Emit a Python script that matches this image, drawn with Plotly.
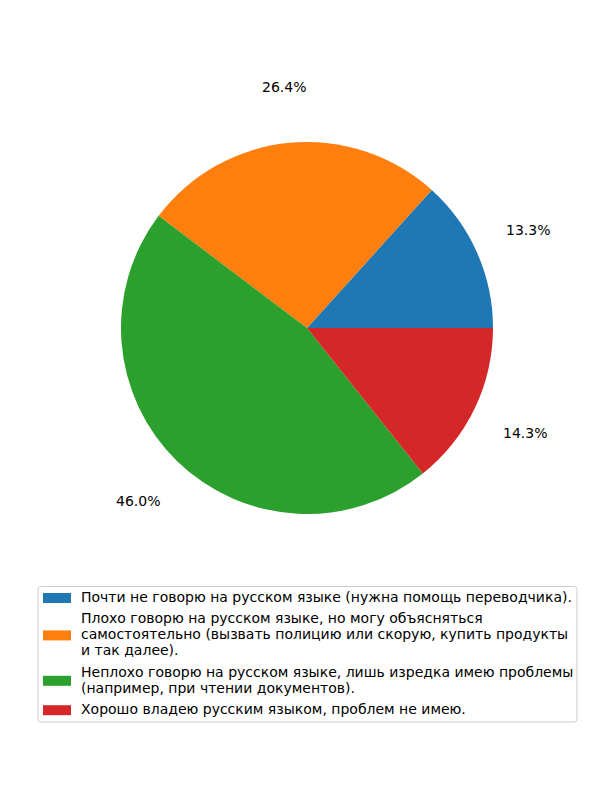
import numpy as np
import plotly.graph_objects as go

labels = [
    "Почти не говорю на русском языке (нужна помощь переводчика).",
    "Плохо говорю на русском языке, но могу объясняться\nсамостоятельно (вызвать полицию или скорую, купить продукты\nи так далее).",
    "Неплохо говорю на русском языке, лишь изредка имею проблемы\n(например, при чтении документов).",
    "Хорошо владею русским языком, проблем не имею.",
]
values = [13.3, 26.4, 46.0, 14.3]
colors = ["#1f77b4", "#ff7f0e", "#2ca02c", "#d62728"]

W, H = 600, 800
cx, cy, r = 307, 472, 186  # pixel centre (from bottom) and radius
FONT = "DejaVu Sans"

total = sum(values)
first_deg = values[0] / total * 360

fig = go.Figure(go.Pie(
    labels=[l.replace("\n", " ") for l in labels], values=values, sort=False,
    direction="counterclockwise", rotation=90 - first_deg,
    textinfo="none", hoverinfo="label+percent", showlegend=False,
    marker=dict(colors=colors, line=dict(width=0)),
    domain=dict(x=[(cx - r) / W, (cx + r) / W], y=[(cy - r) / H, (cy + r) / H]),
))

# percentage labels at 1.3 radius
cum = np.cumsum([0] + values)
for i, v in enumerate(values):
    mid = np.deg2rad((cum[i] + v / 2) / total * 360)
    px = cx + 1.3 * r * np.cos(mid)
    py = cy + 1.3 * r * np.sin(mid)
    fig.add_annotation(x=px / W, y=py / H, xref="paper", yref="paper",
                       text=f"{v / total * 100:.1f}%", showarrow=False,
                       xanchor="center", yanchor="middle",
                       font=dict(size=14, color="black", family=FONT))

# manual legend (matplotlib style)
box_l, box_r, box_t, box_b = 38, 577, 586.5, 722
rad = 3
path = (f"M {box_l + rad},{H - box_t} L {box_r - rad},{H - box_t} "
        f"Q {box_r},{H - box_t} {box_r},{H - box_t - rad} "
        f"L {box_r},{H - box_b + rad} Q {box_r},{H - box_b} {box_r - rad},{H - box_b} "
        f"L {box_l + rad},{H - box_b} Q {box_l},{H - box_b} {box_l},{H - box_b + rad} "
        f"L {box_l},{H - box_t - rad} Q {box_l},{H - box_t} {box_l + rad},{H - box_t} Z")
fig.add_shape(type="path", path=path, xref="x", yref="y",
              line=dict(color="#cccccc", width=1), fillcolor="white", layer="below")

line_step = 16
entry_gap = 5.4
y = 597.0
for lab, col in zip(labels, colors):
    lines = lab.split("\n")
    ys = [y + k * line_step for k in range(len(lines))]
    for ln, yy in zip(lines, ys):
        fig.add_annotation(x=79, y=H - yy, xref="x", yref="y", text=ln,
                           showarrow=False, xanchor="left", yanchor="middle",
                           font=dict(size=14, color="black", family=FONT))
    yc = (ys[0] + ys[-1]) / 2 + 1
    fig.add_shape(type="rect", x0=43, x1=71, y0=H - (yc - 5), y1=H - (yc + 5),
                  xref="x", yref="y", fillcolor=col, line=dict(width=0))
    y = ys[-1] + line_step + entry_gap

fig.update_layout(
    width=W, height=H, margin=dict(l=0, r=0, t=0, b=0),
    paper_bgcolor="white", plot_bgcolor="white",
    font=dict(family=FONT, size=14, color="black"),
    xaxis=dict(range=[0, W], visible=False, fixedrange=True),
    yaxis=dict(range=[0, H], visible=False, fixedrange=True),
    showlegend=False,
)
fig.write_html("out.html")
